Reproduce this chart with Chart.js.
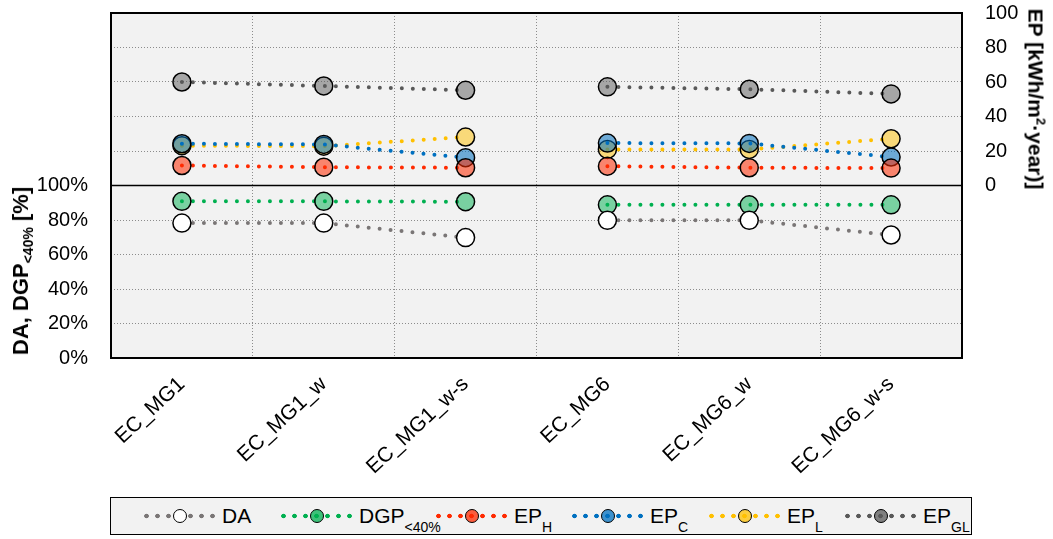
<!DOCTYPE html>
<html>
<head>
<meta charset="utf-8">
<script src="https://cdn.jsdelivr.net/npm/chart.js@4.4.1/dist/chart.umd.min.js"></script>
<style>
    body { margin: 0; background: #fff; font-family: "Liberation Sans", Arial, sans-serif; }
    #wrap { position: relative; width: 1053px; height: 539px; overflow: hidden; }
    #chart { position: absolute; left: 0; top: 0; }
    .ttl { position: absolute; font-weight: bold; white-space: nowrap; color: #000; line-height: 1; }
    #leftTitle { font-size: 22px; }
    #rightTitle { font-size: 21px; }
    .ttl .lo { font-size: 14px; position: relative; top: 5px; }
    .ttl .hi { font-size: 13px; position: relative; top: -8px; }
    #legend { position: absolute; left: 110px; top: 497px; width: 862px; height: 38px; background: #f2f2f2; border: 1.5px solid #000; box-sizing: border-box; }
    .item { position: absolute; top: 0; height: 100%; display: flex; align-items: center; font-size: 21px; color: #000; }
    .sym { position: relative; width: 77px; height: 12px; margin-right: 4px; }
    .dots { position: absolute; left: 0; top: 0; width: 100%; height: 100%; background-size: 11px 12px; background-repeat: repeat-x; }
    .mk { position: absolute; left: 50%; top: 50%; width: 14px; height: 14px; margin: -7px 0 0 -7px; border: 1.5px solid #000; border-radius: 50%; box-sizing: border-box; }
    .item .lo { font-size: 14px; position: relative; top: 9px; }
</style>
</head>
<body>
<div id="wrap">
    <canvas id="chart" width="1053" height="539"></canvas>
    <div class="ttl" id="leftTitle">DA, DGP<span class="lo">&lt;40%</span> [%]</div>
    <div class="ttl" id="rightTitle">EP [kWh/m<span class="hi">2</span>·year)]</div>
    <div id="legend"></div>
</div>
<script>
    // categories and values
    const categories = ["EC_MG1", "EC_MG1_w", "EC_MG1_w-s", "EC_MG6", "EC_MG6_w", "EC_MG6_w-s"];
    const daValues = [78.2, 78.2, 69.8, 79.8, 79.8, 71.3];      // %
    const dgpValues = [90.8, 90.8, 90.6, 88.8, 88.8, 88.8];     // %
    const epHValues = [11.6, 10.6, 10.3, 11.2, 10.3, 10.1];     // kWh/m2 year
    const epCValues = [24.2, 23.8, 16.1, 24.6, 24.4, 16.5];
    const epLValues = [23.1, 22.8, 28.1, 20.9, 20.9, 27.1];
    const epGLValues = [60.0, 57.7, 55.2, 57.2, 55.8, 53.1];
    const leftTicks = [0, 20, 40, 60, 80, 100];
    const rightTicks = [0, 20, 40, 60, 80, 100];

    const series = [
        { key: "DA", sub: "", data: daValues, line: "#7a7676", fill: "#ffffff", axis: "y" },
        { key: "DGP", sub: "<40%", data: dgpValues, line: "#00b050", fill: "rgba(0,176,80,0.5)", axis: "y" },
        { key: "EP", sub: "H", data: epHValues, line: "#ff2a00", fill: "rgba(255,42,0,0.55)", axis: "y2" },
        { key: "EP", sub: "C", data: epCValues, line: "#0070c0", fill: "rgba(0,112,192,0.55)", axis: "y2" },
        { key: "EP", sub: "L", data: epLValues, line: "#ffc000", fill: "rgba(255,192,0,0.5)", axis: "y2" },
        { key: "EP", sub: "GL", data: epGLValues, line: "#595959", fill: "rgba(89,89,89,0.5)", axis: "y2" }
    ];

    const FONT = "'Liberation Sans', Arial, sans-serif";

    // plot background, frame and the 100% / 0 divider
    const framePlugin = {
        id: "frame",
        beforeDraw(chart) {
            const { ctx, chartArea: a } = chart;
            ctx.save();
            ctx.fillStyle = "#f2f2f2";
            ctx.fillRect(a.left, a.top, a.right - a.left, a.bottom - a.top);
            ctx.restore();
        },
        beforeDatasetsDraw(chart) {
            const { ctx, chartArea: a } = chart;
            const yMid = chart.scales.y.getPixelForValue(100);
            ctx.save();
            ctx.strokeStyle = "#000";
            ctx.lineWidth = 1.5;
            ctx.beginPath();
            ctx.moveTo(a.left, yMid);
            ctx.lineTo(a.right, yMid);
            ctx.stroke();
            ctx.lineWidth = 2;
            ctx.strokeRect(a.left, a.top, a.right - a.left, a.bottom - a.top);
            ctx.restore();
        }
    };

    const datasets = series.map(s => ({
        label: s.key + s.sub,
        data: s.data,
        yAxisID: s.axis,
        borderColor: s.line,
        borderWidth: 4,
        borderDash: [0, 11],
        borderCapStyle: "round",
        backgroundColor: s.fill,
        pointBackgroundColor: s.fill,
        pointBorderColor: "#000",
        pointBorderWidth: 1.5,
        pointRadius: 9,
        pointHoverRadius: 9,
        fill: false,
        tension: 0,
        // no line between the MG1 and MG6 groups
        segment: { borderColor: ctx => ctx.p0DataIndex === 2 ? "rgba(0,0,0,0)" : undefined }
    }));

    new Chart(document.getElementById("chart").getContext("2d"), {
        type: "line",
        data: { labels: categories, datasets: datasets },
        options: {
            responsive: false,
            animation: false,
            devicePixelRatio: 1,
            layout: { padding: { top: 13, left: 0, right: 0, bottom: 0 } },
            plugins: { legend: { display: false }, tooltip: { enabled: false } },
            scales: {
                x: {
                    type: "category",
                    offset: true,
                    grid: { offset: true, color: "#8c8c8c", lineWidth: 1, drawTicks: false },
                    border: { display: false, dash: [1, 2] },
                    ticks: { autoSkip: false, minRotation: 43, maxRotation: 43, padding: 14, color: "#000", font: { family: FONT, size: 21 } },
                    afterFit: s => { s.height = 539 - 358; }
                },
                y: {
                    position: "left",
                    min: 0,
                    max: 200,
                    // invisible tick marks keep the labels 23px off the frame
                    grid: { color: "#8c8c8c", lineWidth: 1, drawTicks: true, tickLength: 23, tickColor: "rgba(0,0,0,0)" },
                    border: { display: false, dash: [1, 2] },
                    ticks: {
                        stepSize: 20, padding: 0, color: "#000", font: { family: FONT, size: 20 },
                        callback: v => leftTicks.includes(v) ? v + "%" : ""
                    },
                    afterFit: s => { s.width = 111; }
                },
                y2: {
                    position: "right",
                    min: -100,
                    max: 100,
                    grid: { display: false, drawTicks: true, tickLength: 23 },
                    border: { display: false },
                    ticks: {
                        stepSize: 20, padding: 0, color: "#000", font: { family: FONT, size: 20 },
                        callback: v => rightTicks.includes(v) ? String(v) : ""
                    },
                    afterFit: s => { s.width = 1053 - 962; }
                }
            }
        },
        plugins: [framePlugin]
    });

    // axis titles
    function placeTitle(id, cx, cy, deg) {
        const el = document.getElementById(id);
        el.style.left = cx + "px";
        el.style.top = cy + "px";
        el.style.transform = "translate(-50%,-50%) rotate(" + deg + "deg)";
    }
    placeTitle("leftTitle", 21, 271, -90);
    placeTitle("rightTitle", 1036, 99, 90);

    // legend (dotted line with a marker, as in the chart)
    const legendLeft = [30, 167, 322, 458, 595, 731];
    const legend = document.getElementById("legend");
    series.forEach((s, i) => {
        const item = document.createElement("div");
        item.className = "item";
        item.style.left = legendLeft[i] + "px";
        const sym = document.createElement("div");
        sym.className = "sym";
        const dots = document.createElement("div");
        dots.className = "dots";
        dots.style.backgroundImage = "radial-gradient(circle at 5.5px 6px, " + s.line + " 2px, rgba(0,0,0,0) 2.6px)";
        const mk = document.createElement("div");
        mk.className = "mk";
        mk.style.background = s.fill.replace(/0\.5+\)/, "0.75)");
        sym.appendChild(dots);
        sym.appendChild(mk);
        const txt = document.createElement("span");
        txt.textContent = s.key;
        if (s.sub) {
            const lo = document.createElement("span");
            lo.className = "lo";
            lo.textContent = s.sub;
            txt.appendChild(lo);
        }
        item.appendChild(sym);
        item.appendChild(txt);
        legend.appendChild(item);
    });
</script>
</body>
</html>
